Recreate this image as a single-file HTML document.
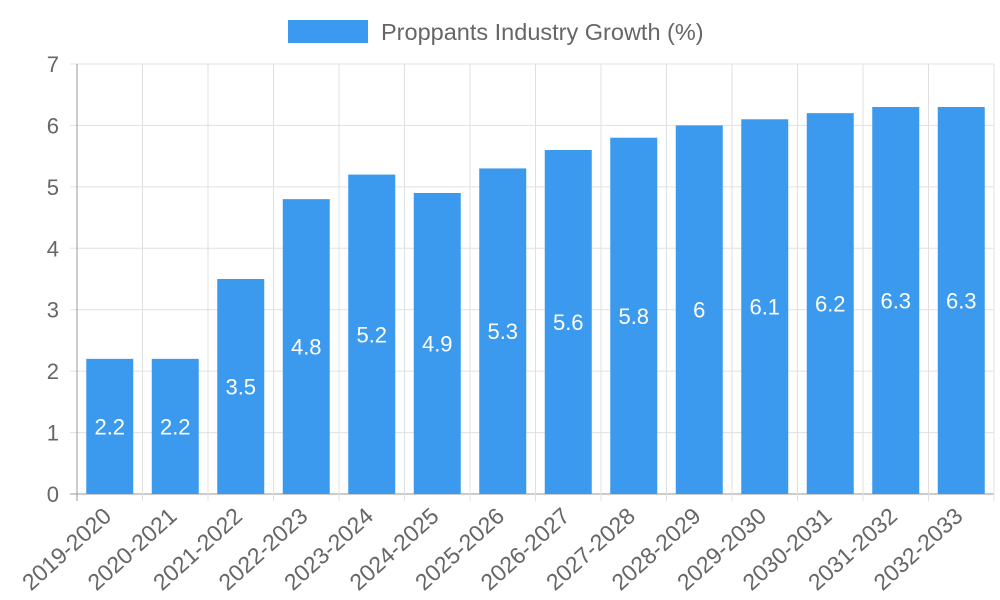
<!DOCTYPE html>
<html><head><meta charset="utf-8"><style>
body{margin:0;background:#fff;}
svg{display:block;font-family:"Liberation Sans",sans-serif;}
</style></head><body>
<svg id="chart" width="1000" height="600">
<g>
<rect x="288" y="20" width="80" height="23" fill="#3c9aee"></rect>
<text x="381" y="40" font-size="23.5" fill="#666">Proppants Industry Growth (%)</text>
</g>
<g id="grid"></g>
<g id="bars"></g>
<g id="axes"></g>
</svg>
<script>
const categories=["2019-2020","2020-2021","2021-2022","2022-2023","2023-2024","2024-2025","2025-2026","2026-2027","2027-2028","2028-2029","2029-2030","2030-2031","2031-2032","2032-2033"];
const growthValues=[2.2,2.2,3.5,4.8,5.2,4.9,5.3,5.6,5.8,6,6.1,6.2,6.3,6.3];
const yTicks=[0,1,2,3,4,5,6,7];
const NS="http://www.w3.org/2000/svg";
const L=77,R=994,T=64,B=494,yMax=7;
const bw=(R-L)/categories.length;
const y=v=>B-(v/yMax)*(B-T);
const x=i=>L+bw*i;
function mk(tag,attrs,parent,text){const e=document.createElementNS(NS,tag);for(const k in attrs)e.setAttribute(k,attrs[k]);if(text!==undefined)e.textContent=text;parent.appendChild(e);return e;}
const grid=document.getElementById('grid'),bars=document.getElementById('bars'),axes=document.getElementById('axes');
yTicks.forEach(t=>{
  const l=mk('line',{x1:70,x2:R,y1:y(t),y2:y(t),stroke:t===0?'#999':'#e0e0e0','stroke-width':1},grid);
  
  
  const tx=mk('text',{x:59,y:y(t)+8,'text-anchor':'end','font-size':22,fill:'#666'},axes,String(t));
  
  
});
for(let i=0;i<=categories.length;i++){
  const l=mk('line',{x1:x(i),x2:x(i),y1:T,y2:B+7,stroke:i===0?'#999':'#e0e0e0','stroke-width':1},grid);
  
  
}
categories.forEach((c,i)=>{
  const cx=x(i)+bw/2,v=growthValues[i];
  const r=mk('rect',{x:cx-23.5,y:y(v),width:47,height:B-y(v),fill:'#3c9aee'},bars);
  
  
  const lb=mk('text',{x:cx,y:(y(v)+B)/2+8,'text-anchor':'middle','font-size':22,fill:'#fff'},bars,String(v));
  
  
  const ax=cx+3,ay=B+24;
  const xl=mk('text',{x:ax,y:ay,'text-anchor':'end','font-size':23,fill:'#666',transform:`rotate(-42 ${ax} ${ay})`},axes,c);
  
  
});
</script>
</body></html>
